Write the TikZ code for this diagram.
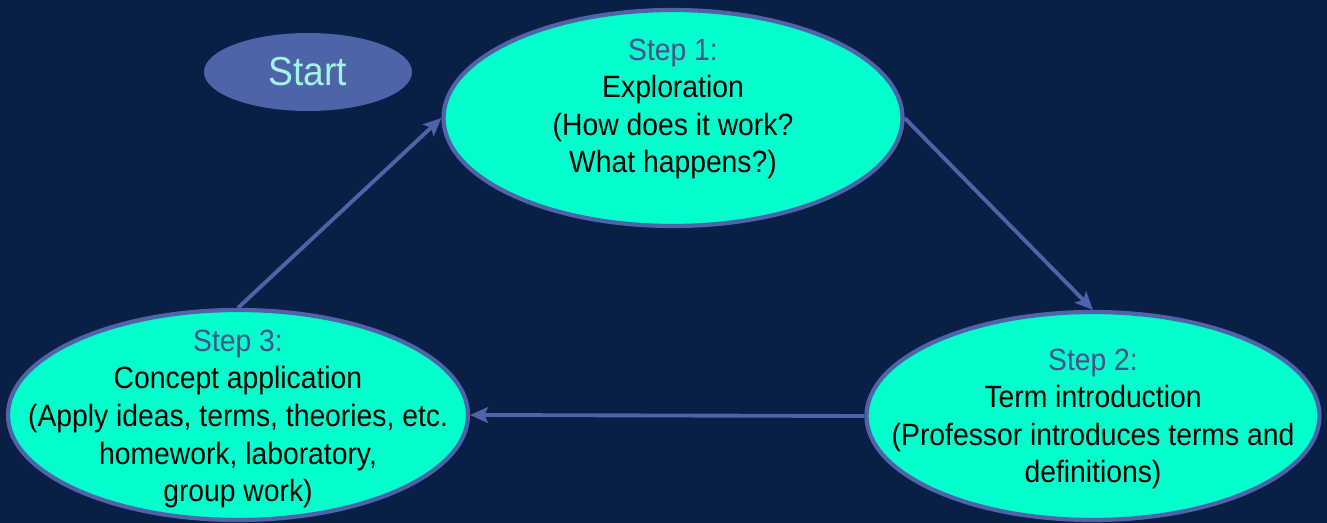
\documentclass[tikz,border=0pt]{standalone}
\usepackage{fontspec}
\setmainfont{Liberation Sans}[FakeStretch=0.92]
\usetikzlibrary{shapes.geometric}
\usetikzlibrary{arrows.meta}

\definecolor{slidebg}{RGB}{9,31,69}
\definecolor{stepcyan}{RGB}{0,255,204}
\definecolor{rimblue}{RGB}{79,100,168}
\definecolor{titleblue}{RGB}{70,82,140}
\definecolor{starttext}{RGB}{160,245,228}

\begin{document}
\begin{tikzpicture}[>={Stealth[length=0.36cm,width=0.32cm,inset=0.08cm]},auto,
	step node/.style={ellipse,draw=rimblue,line width=2.4pt,fill=stepcyan},
	step text/.style={align=center,text=black,font=\fontsize{17.5}{21.4}\selectfont},
	start node/.style={ellipse,fill=rimblue,text=starttext,
		font=\fontsize{23}{26}\selectfont,minimum width=4.16cm,minimum height=1.56cm},
	flow/.style={draw=rimblue,line width=2.2pt,->}]
	
	\fill[slidebg] (0,0) rectangle (26.54,-10.46);
	\useasboundingbox (0,0) rectangle (26.54,-10.46);
	
	\node[start node] (start) at (6.16,-1.44) {Start};
	\node[step node,minimum width=9.18cm,minimum height=4.32cm,
		label={[step text,yshift=0.18cm]center:{\textcolor{titleblue}{Step 1:}\\Exploration\\(How does it work?\\What happens?)}}]
		(s1) at (13.46,-2.36) {};
	\node[step node,minimum width=9.06cm,minimum height=4.16cm,
		label={[step text,yshift=-0.06cm]center:{\textcolor{titleblue}{Step 2:}\\Term introduction\\(Professor introduces terms and\\definitions)}}]
		(s2) at (21.86,-8.32) {};
	\node[step node,minimum width=9.2cm,minimum height=4.2cm,
		label={[step text,yshift=-0.08cm]center:{\textcolor{titleblue}{Step 3:}\\Concept application\\(Apply ideas, terms, theories, etc.\\homework, laboratory,\\group work)}}]
		(s3) at (4.76,-8.30) {};
	
	\path
	(s1.east) edge[flow] (s2.north)
	(s2.west) edge[flow] (s3.east)
	(s3.north) edge[flow] (s1.west);
\end{tikzpicture}
\end{document}
